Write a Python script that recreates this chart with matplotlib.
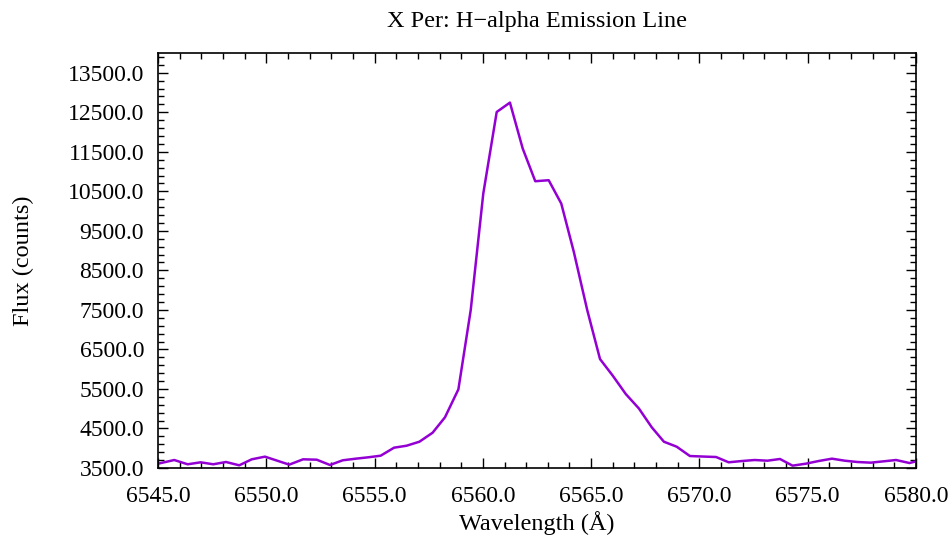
import matplotlib
matplotlib.use('Agg')
import matplotlib.pyplot as plt
from matplotlib.ticker import MultipleLocator, FormatStrFormatter

# H-alpha spectrum of X Per
wavelength = [6545.09, 6545.75, 6546.37, 6546.97, 6547.55, 6548.14, 6548.75, 6549.33,
              6549.94, 6550.50, 6551.06, 6551.70, 6552.33, 6552.94, 6553.53, 6554.12,
              6554.70, 6555.28, 6555.90, 6556.48, 6557.07, 6557.68, 6558.25, 6558.87,
              6559.44, 6560.02, 6560.64, 6561.25, 6561.84, 6562.42, 6563.04, 6563.62,
              6564.20, 6564.82, 6565.41, 6566.00, 6566.60, 6567.20, 6567.80, 6568.36,
              6568.95, 6569.56, 6570.16, 6570.77, 6571.35, 6571.97, 6572.55, 6573.14,
              6573.72, 6574.30, 6574.92, 6575.51, 6576.12, 6576.71, 6577.29, 6577.91,
              6578.49, 6579.08, 6579.70, 6580.30]
flux = [3620, 3702, 3594, 3644, 3594, 3652, 3568, 3720,
        3787, 3686, 3585, 3720, 3710, 3576, 3695, 3735,
        3770, 3811, 4014, 4064, 4165, 4393, 4782, 5490,
        7497, 10445, 12508, 12745, 11583, 10756, 10781, 10191,
        8968, 7494, 6256, 5834, 5371, 5009, 4529, 4165,
        4039, 3803, 3790, 3778, 3644, 3677, 3702, 3685,
        3728, 3559, 3610, 3677, 3736, 3685, 3652, 3635,
        3668, 3702, 3626, 3710]

plt.rcParams['font.family'] = ['Liberation Serif', 'DejaVu Serif']

fig = plt.figure(figsize=(9.53, 5.46), dpi=100)
ax = fig.add_axes([158/953, 1 - 468/546, 758/953, 415/546])

ax.plot(wavelength, flux, color='#9400D3', lw=1.8)

ax.set_xlim(6545, 6580)
ax.set_ylim(3500, 14000)
ax.xaxis.set_major_locator(MultipleLocator(5))
ax.xaxis.set_minor_locator(MultipleLocator(1))
ax.yaxis.set_major_locator(MultipleLocator(1000, offset=500))
ax.yaxis.set_minor_locator(MultipleLocator(200, offset=100))
ax.xaxis.set_major_formatter(FormatStrFormatter('%.1f'))
ax.yaxis.set_major_formatter(FormatStrFormatter('%.1f'))
ax.tick_params(which='both', direction='in', top=True, right=True, labelsize=17, width=1)
ax.tick_params(which='major', length=7)
ax.tick_params(which='minor', length=4)
ax.tick_params(axis='x', which='major', pad=13)
ax.tick_params(axis='y', which='major', pad=10)
for s in ax.spines.values():
    s.set_linewidth(1.2)

ax.set_title('X Per: H\u2212alpha Emission Line', fontsize=17.5, pad=19)
ax.set_xlabel('Wavelength (Å)', fontsize=17.5, labelpad=3)
ax.set_ylabel('Flux (counts)', fontsize=17.5, labelpad=24)

fig.savefig('out.png', dpi=100)
